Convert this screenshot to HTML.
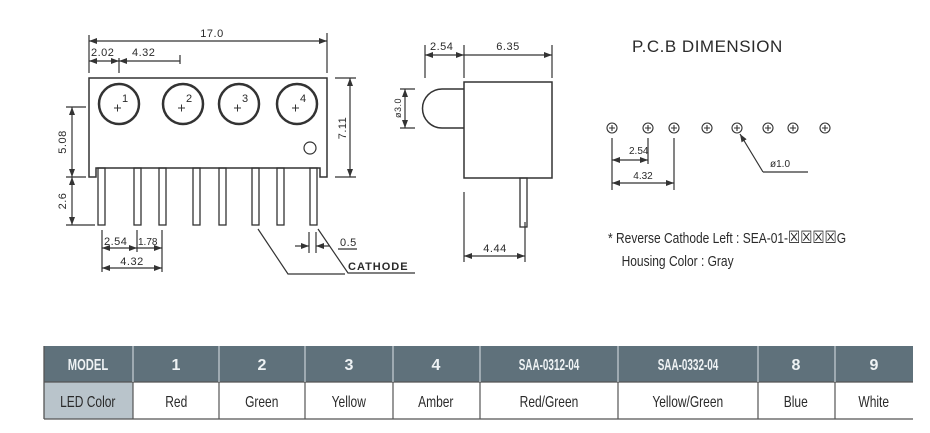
<!DOCTYPE html>
<html><head><meta charset="utf-8"><style>
body{margin:0;background:#fff;width:930px;height:433px;overflow:hidden}
svg{display:block}
text{font-family:"Liberation Sans",sans-serif;fill:#2a2a2a}
</style></head><body>
<svg width="930" height="433" viewBox="0 0 930 433" xmlns="http://www.w3.org/2000/svg">
<defs>
<marker id="a" markerWidth="8" markerHeight="6" refX="8" refY="3" orient="auto-start-reverse" markerUnits="userSpaceOnUse"><path d="M0,0 L8,3 L0,6 z" fill="#333"/></marker>
</defs>
<g stroke="#333" fill="none" stroke-width="1.2">
<path d="M89,78 H327 V177 H320 V168 H96 V177 H89 Z" stroke-width="1.5"/>
<g stroke-width="2.5">
<circle cx="119" cy="104" r="20"/><circle cx="183" cy="104" r="20"/><circle cx="239" cy="104" r="20"/><circle cx="297" cy="104" r="20"/>
</g>
<circle cx="310" cy="148" r="6"/>
<g stroke-width="1.3">
<rect x="98" y="168" width="7" height="57"/><rect x="134" y="168" width="7" height="57"/><rect x="159" y="168" width="7" height="57"/><rect x="193" y="168" width="7" height="57"/><rect x="219" y="168" width="7" height="57"/><rect x="252" y="168" width="7" height="57"/><rect x="277" y="168" width="7" height="57"/><rect x="310" y="168" width="7" height="57"/>
</g>
<path d="M114,108 h7 M117.5,104.5 v7 M178,108 h7 M181.5,104.5 v7 M234,108 h7 M237.5,104.5 v7 M292,108 h7 M295.5,104.5 v7" stroke-width="1"/>
<path d="M89,35 V73 M327,33 V73 M119,58 V73 M180,55 V64"/>
<line x1="89" y1="41" x2="327" y2="41" marker-start="url(#a)" marker-end="url(#a)"/>
<line x1="89" y1="61" x2="119" y2="61" marker-start="url(#a)" marker-end="url(#a)"/>
<line x1="119" y1="61" x2="180" y2="61" marker-start="url(#a)"/>
<path d="M66,107 H86 M66,177 H86 M66,225 H95 M335,78 H356 M335,177 H356"/>
<line x1="72" y1="107" x2="72" y2="177" marker-start="url(#a)" marker-end="url(#a)"/>
<line x1="72" y1="177" x2="72" y2="225" marker-start="url(#a)" marker-end="url(#a)"/>
<line x1="350" y1="78" x2="350" y2="177" marker-start="url(#a)" marker-end="url(#a)"/>
<path d="M102,230 V272 M137,230 V252 M162,230 V272"/>
<line x1="102" y1="248" x2="137" y2="248" marker-start="url(#a)" marker-end="url(#a)"/>
<line x1="137" y1="248" x2="162" y2="248" marker-end="url(#a)"/>
<line x1="102" y1="268" x2="162" y2="268" marker-start="url(#a)" marker-end="url(#a)"/>
<path d="M309,232 V253 M316,232 V253"/>
<line x1="295" y1="246" x2="309" y2="246" marker-end="url(#a)"/>
<line x1="330" y1="246" x2="316" y2="246" marker-end="url(#a)"/>
<path d="M318,229 L348,273 H415 M258,229 L288,274 H345"/>
<path d="M338,249 H357"/>
<rect x="464" y="82" width="88" height="96" stroke-width="1.5"/>
<path d="M464,89 H442 A19,19 0 0 0 442,128 H464" stroke-width="1.5"/>
<rect x="520" y="178" width="7" height="49" stroke-width="1.3"/>
<path d="M400,89 H415 M400,128 H415 M425,45 V78 M464,45 V78 M552,45 V78 M464,192 V262 M525,222 V262"/>
<line x1="405" y1="89" x2="405" y2="128" marker-start="url(#a)" marker-end="url(#a)"/>
<line x1="425" y1="55" x2="464" y2="55" marker-start="url(#a)" marker-end="url(#a)"/>
<line x1="464" y1="55" x2="552" y2="55" marker-end="url(#a)"/>
<line x1="464" y1="256" x2="525" y2="256" marker-start="url(#a)" marker-end="url(#a)"/>
<g stroke-width="1.1">
<circle cx="612" cy="128" r="5"/><circle cx="648" cy="128" r="5"/><circle cx="674" cy="128" r="5"/><circle cx="707" cy="128" r="5"/><circle cx="737" cy="128" r="5"/><circle cx="768" cy="128" r="5"/><circle cx="793" cy="128" r="5"/><circle cx="825" cy="128" r="5"/>
<path d="M609,128 h6 M612,125 v6 M645,128 h6 M648,125 v6 M671,128 h6 M674,125 v6 M704,128 h6 M707,125 v6 M734,128 h6 M737,125 v6 M765,128 h6 M768,125 v6 M790,128 h6 M793,125 v6 M822,128 h6 M825,125 v6"/>
</g>
<path d="M612,138 V190 M648,138 V164 M674,138 V190 M763,172 H808"/>
<line x1="612" y1="160" x2="648" y2="160" marker-start="url(#a)" marker-end="url(#a)"/>
<line x1="612" y1="183" x2="674" y2="183" marker-start="url(#a)" marker-end="url(#a)"/>
<line x1="763" y1="172" x2="740" y2="134" marker-end="url(#a)"/>
</g>
<g font-size="11">
<text x="122" y="102">1</text><text x="186" y="102">2</text><text x="242" y="102">3</text><text x="300" y="102">4</text>
</g>
<g font-size="11" letter-spacing="0.5">
<text x="212" y="37" text-anchor="middle">17.0</text>
<text x="91" y="56">2.02</text>
<text x="132" y="56">4.32</text>
<text transform="translate(66,142) rotate(-90)" text-anchor="middle">5.08</text>
<text transform="translate(66,201) rotate(-90)" text-anchor="middle">2.6</text>
<text transform="translate(346,128) rotate(-90)" text-anchor="middle">7.11</text>
<text x="104" y="245">2.54</text>
<text x="138" y="245" font-size="10" letter-spacing="0">1.78</text>
<text x="132" y="265" text-anchor="middle">4.32</text>
<text x="340" y="246">0.5</text>
<text x="348" y="270" font-weight="bold" letter-spacing="1">CATHODE</text>
<text transform="translate(401,108) rotate(-90)" text-anchor="middle" font-size="9">ø3.0</text>
<text x="430" y="50">2.54</text>
<text x="508" y="50" text-anchor="middle">6.35</text>
<text x="495" y="252" text-anchor="middle">4.44</text>
<text x="629" y="154" font-size="10" letter-spacing="0">2.54</text>
<text x="643" y="179" font-size="10" letter-spacing="0" text-anchor="middle">4.32</text>
<text x="770" y="167" font-size="10" letter-spacing="0">ø1.0</text>
</g>
<text x="632" y="52" font-size="17" letter-spacing="0.5">P.C.B DIMENSION</text>
<g font-size="15" transform="translate(608,0) scale(0.8,1)">
<text x="0" y="243">* Reverse Cathode Left : SEA-01-<tspan font-size="17">☒☒☒☒</tspan>G</text>
<text x="17" y="266">Housing Color : Gray</text>
</g>
<rect x="44" y="346" width="869" height="36" fill="#5f717b"/>
<rect x="44" y="382" width="89" height="37" fill="#b9c4cb"/>
<g stroke="#555" stroke-width="1.3">
<line x1="44" y1="382" x2="913" y2="382"/>
<line x1="44" y1="419" x2="913" y2="419"/>
<line x1="44" y1="346" x2="44" y2="419"/>
</g>
<g stroke="#c8d0d5" stroke-width="1.2">
<path d="M133,346 V382 M219,346 V382 M305,346 V382 M393,346 V382 M480,346 V382 M618,346 V382 M758,346 V382 M835,346 V382"/>
</g>
<g stroke="#555" stroke-width="1.2">
<path d="M133,382 V419 M219,382 V419 M305,382 V419 M393,382 V419 M480,382 V419 M618,382 V419 M758,382 V419 M835,382 V419"/>
</g>
<g font-size="16" text-anchor="middle" font-weight="bold">
<text x="88" y="370" transform="translate(88,0) scale(0.7,1) translate(-88,0)" style="fill:#eef2f4">MODEL</text>
<text x="176" y="370" style="fill:#eef2f4">1</text>
<text x="262" y="370" style="fill:#eef2f4">2</text>
<text x="349" y="370" style="fill:#eef2f4">3</text>
<text x="436" y="370" style="fill:#eef2f4">4</text>
<text x="549" y="370" transform="translate(549,0) scale(0.62,1) translate(-549,0)" style="fill:#eef2f4">SAA-0312-04</text>
<text x="688" y="370" transform="translate(688,0) scale(0.62,1) translate(-688,0)" style="fill:#eef2f4">SAA-0332-04</text>
<text x="796" y="370" style="fill:#eef2f4">8</text>
<text x="874" y="370" style="fill:#eef2f4">9</text>
</g>
<g font-size="16" text-anchor="middle" transform="scale(0.75,1)">
<text x="117" y="407">LED Color</text>
<text x="235" y="407">Red</text>
<text x="349" y="407">Green</text>
<text x="465" y="407">Yellow</text>
<text x="581" y="407">Amber</text>
<text x="732" y="407">Red/Green</text>
<text x="917" y="407">Yellow/Green</text>
<text x="1061" y="407">Blue</text>
<text x="1165" y="407">White</text>
</g>
</svg>
</body></html>
